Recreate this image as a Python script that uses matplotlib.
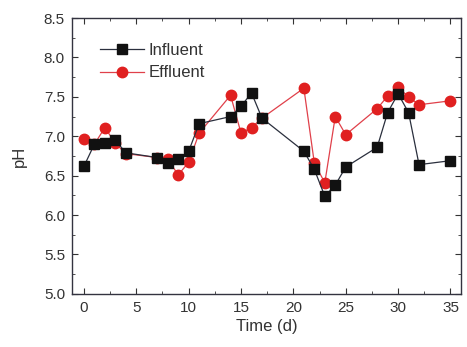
import numpy as np
import matplotlib
matplotlib.use('Agg')
from matplotlib import pyplot as plt
from matplotlib.ticker import MultipleLocator

plt.rcParams['font.family'] = ['Liberation Sans', 'DejaVu Sans']

# influent pH
inf_day = [0, 1, 2, 3, 4, 7, 8, 9, 10, 11, 14, 15, 16, 17, 21, 22, 23, 24, 25, 28, 29, 30, 31, 32, 35]
inf_ph = [6.62, 6.90, 6.91, 6.95, 6.79, 6.73, 6.66, 6.71, 6.81, 7.16, 7.25, 7.38, 7.55, 7.23,
          6.81, 6.58, 6.24, 6.38, 6.61, 6.86, 7.30, 7.54, 7.30, 6.64, 6.69]
# effluent pH
eff_day = [0, 1, 2, 3, 4, 7, 8, 9, 10, 11, 14, 15, 16, 17, 21, 22, 23, 24, 25, 28, 29, 30, 31, 32, 35]
eff_ph = [6.96, 6.90, 7.11, 6.91, 6.78, 6.73, 6.71, 6.51, 6.67, 7.04, 7.52, 7.04, 7.11, 7.23,
          7.61, 6.66, 6.41, 7.25, 7.02, 7.35, 7.51, 7.62, 7.50, 7.40, 7.45]

fig = plt.figure(figsize=(4.67, 3.47), dpi=100)
ax = fig.add_axes([0.154, 0.153, 0.833, 0.795])

ax.plot(inf_day, inf_ph, '-s', color='#2a2f3d', lw=0.9, ms=6.5,
        mfc='#111111', mec='#111111', label='Influent', zorder=3)
ax.plot(eff_day, eff_ph, '-o', color='#e0404a', lw=0.9, ms=7.5,
        mfc='#e02020', mec='#e02020', label='Effluent', zorder=2)

ax.set_xlim(-1.15, 36)
ax.set_ylim(5.0, 8.5)
ax.xaxis.set_major_locator(MultipleLocator(5))
ax.xaxis.set_minor_locator(MultipleLocator(2.5))
ax.yaxis.set_major_locator(MultipleLocator(0.5))
ax.yaxis.set_minor_locator(MultipleLocator(0.25))
ax.yaxis.set_major_formatter(matplotlib.ticker.FormatStrFormatter('%.1f'))
ax.tick_params(which='both', direction='in', top=True, right=True,
               labelsize=11, colors='#333333', labelcolor='#333333')
ax.tick_params(which='major', length=4, pad=5)
ax.tick_params(which='minor', length=2)
for s in ax.spines.values():
    s.set_color('#333340')
    s.set_linewidth(1.0)

ax.set_xlabel('Time (d)', fontsize=12, color='#333333', labelpad=3)
ax.set_ylabel('pH', fontsize=12, color='#333333', labelpad=12)

ax.legend(loc='upper left', frameon=False, fontsize=12, handlelength=2.6,
          handletextpad=0.3, labelspacing=0.45, borderaxespad=0.6,
          bbox_to_anchor=(0.03, 0.97), labelcolor='#333333')

fig.savefig('out.png', dpi=100)
